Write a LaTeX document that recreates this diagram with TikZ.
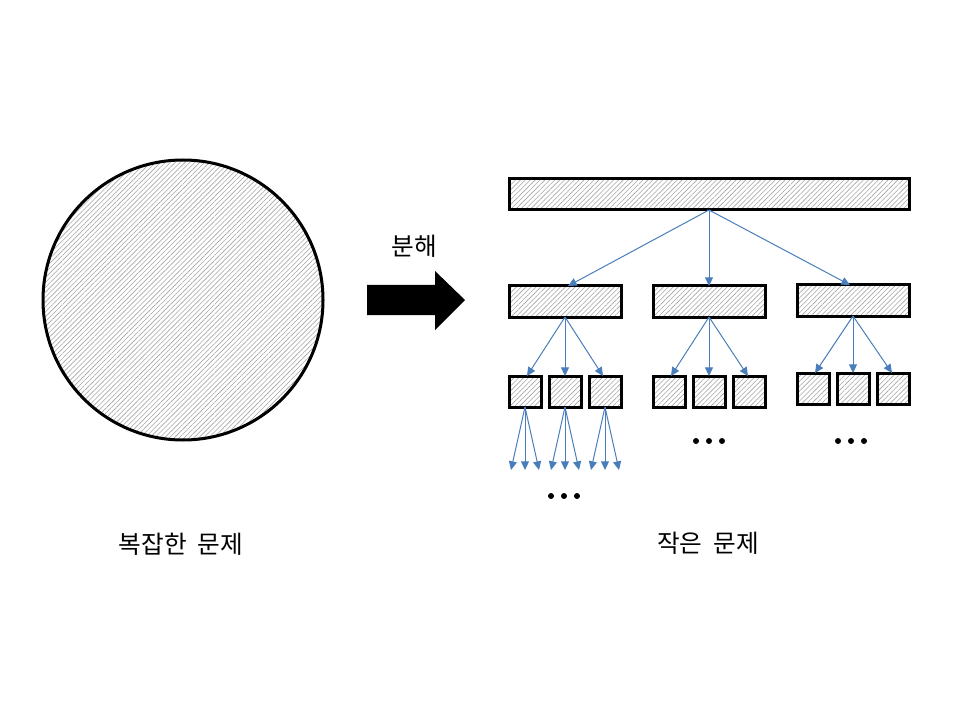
\documentclass[tikz,border=0pt]{standalone}
\usepackage{fontspec}
\newfontfamily\kr{Noto Sans CJK KR}
\usetikzlibrary{patterns.meta,arrows.meta}
\definecolor{arrblue}{RGB}{74,126,187}
\definecolor{hatch}{RGB}{165,165,165}
\tikzset{
  hbox/.style={draw=black,line width=2.25pt,pattern={Lines[angle=45,distance=2.6pt,line width=0.45pt]},pattern color=hatch},
  barr/.style={draw=arrblue,line width=0.75pt,-{Triangle[length=6.5pt,width=6pt]}},
  lbl/.style={font=\kr\fontsize{18.5pt}{20pt}\selectfont,inner sep=0pt},
  dot/.style={circle,fill=black,inner sep=0pt,minimum size=4.5pt}
}
\begin{document}
\begin{tikzpicture}[x=0.75pt,y=-0.75pt]
\useasboundingbox (0,0) rectangle (960,720);
% circle
\draw[hbox] (183,300) circle[radius=140];
% big arrow
\fill[black] (367,285) -- (435,285) -- (435,271) -- (465,300) -- (435,330) -- (435,315) -- (367,315) -- cycle;
\node[lbl] (dec) at (414,246) {분해};
% top box
\path[hbox] (509,179) rectangle (909,210);
\coordinate (top) at (709,210);
% level 2
\path[hbox] (509,286) rectangle (621,317);
\path[hbox] (653,286) rectangle (765,317);
\path[hbox] (797,285) rectangle (909,316);
\coordinate (aT) at (568,286);
\coordinate (bT) at (709,286);
\coordinate (cT) at (850,285);
\draw[barr] (top) -- (aT);
\draw[barr] (top) -- (bT);
\draw[barr] (top) -- (cT);
\coordinate (aB) at (565,317);
\coordinate (bB) at (709,317);
\coordinate (cB) at (853,316);
% level 3
\foreach \x in {509,549,589,653,693,733} {\path[hbox] (\x,376) rectangle ++(32,31);}
\foreach \x in {797,837,877} {\path[hbox] (\x,373) rectangle ++(32,31);}
\foreach \t in {527,565,603} {\coordinate (t) at (\t,376); \draw[barr] (aB) -- (t);}
\foreach \t in {671,709,748} {\coordinate (t) at (\t,376); \draw[barr] (bB) -- (t);}
\foreach \t in {815,853,892} {\coordinate (t) at (\t,373); \draw[barr] (cB) -- (t);}
% level 4 arrows
\foreach \c in {525,565,605} {
  \coordinate (s) at (\c,407);
  \foreach \d in {-14,0,14} {\coordinate (e) at (\c+\d,470); \draw[barr] (s) -- (e);}
}
% dots
\foreach \x in {551,564,577} {\node[dot] at (\x,496) {};}
\foreach \x in {696,709,722} {\node[dot] at (\x,441) {};}
\foreach \x in {838,851,864} {\node[dot] at (\x,441) {};}
% labels
\node[lbl] (l1) at (181,544) {복잡한\hspace{0.45em}문제};
\node[lbl] (l2) at (708,543) {작은\hspace{0.45em}문제};
\end{tikzpicture}
\end{document}
